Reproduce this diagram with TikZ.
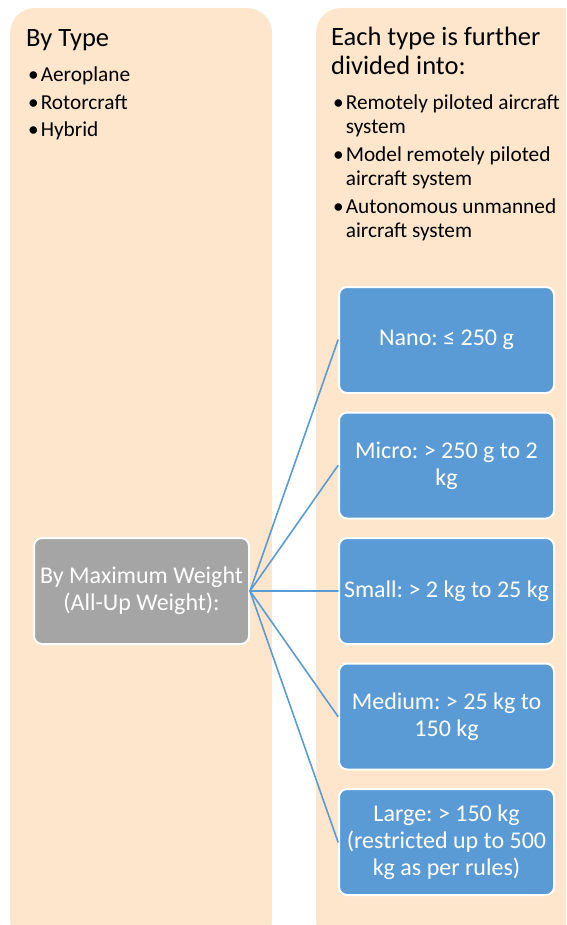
\documentclass[tikz,border=0pt]{standalone}
\usepackage{fontspec}
\setmainfont{Carlito}
\usetikzlibrary{positioning}
\definecolor{peach}{RGB}{253,230,204}
\definecolor{boxblue}{RGB}{91,155,213}
\definecolor{boxgray}{RGB}{165,165,165}
\tikzset{
  panel/.style={fill=peach,rounded corners=25pt},
  heading/.style={anchor=base west,inner sep=0pt,font=\fontsize{26.5}{29}\selectfont},
  itemlist/.style={anchor=base west,inner sep=0pt,font=\fontsize{21.3}{24}\selectfont},
  sizebox/.style={rectangle,rounded corners=8pt,fill=boxblue,draw=white,line width=2pt,
    minimum width=215pt,minimum height=106pt,align=center,text=white,
    font=\fontsize{24}{27}\selectfont\frenchspacing},
  link/.style={draw=boxblue,line width=1.6pt}
}

\begin{document}
\begin{tikzpicture}[x=1pt,y=-1pt,line cap=round,line join=round]
  % page window
  \useasboundingbox (0,0) rectangle (566,925);
  \clip (0,0) rectangle (566,925);

  % background panels (run off the page)
  \path[panel] (10,8) rectangle (272,945);
  \path[panel] (316,8) rectangle (610,945);

  % left panel text
  \node[heading] (bytype) at (26,47) {By Type};
  \node[itemlist] (typelist) at (28,82)
    {\begin{tabular}[t]{@{}l@{\hspace{2pt}}l@{}}
       \textbullet & Aeroplane\\[3.5pt]
       \textbullet & Rotorcraft\\[3.5pt]
       \textbullet & Hybrid
     \end{tabular}};

  % right panel text
  \node[heading] (divided) at (331,46)
    {\begin{tabular}[t]{@{}l@{}}Each type is further\\divided into:\end{tabular}};
  \node[itemlist] (systemlist) at (333,110)
    {\begin{tabular}[t]{@{}l@{\hspace{2pt}}l@{}}
       \textbullet & Remotely piloted aircraft\\
                   & system\\[4pt]
       \textbullet & Model remotely piloted\\
                   & aircraft system\\[4pt]
       \textbullet & Autonomous unmanned\\
                   & aircraft system
     \end{tabular}};

  % weight category
  \node[sizebox,fill=boxgray] (maxweight) at (141.5,591)
    {By Maximum Weight\\(All-Up Weight):};

  % weight classes
  \node[sizebox] (nano) at (446.5,340) {Nano: ≤ 250 g};
  \node[sizebox,below=17.5pt of nano] (micro) {Micro: > 250 g to 2\\kg};
  \node[sizebox,below=17.5pt of micro] (small) {Small: > 2 kg to 25 kg};
  \node[sizebox,below=17.5pt of small] (medium) {Medium: > 25 kg to\\150 kg};
  \node[sizebox,below=17.5pt of medium] (large)
    {Large: > 150 kg\\(restricted up to 500\\kg as per rules)};

  % connectors
  \foreach \cls in {nano,micro,small,medium,large}
    \draw[link] (maxweight.east) -- (\cls.west);
\end{tikzpicture}
\end{document}
